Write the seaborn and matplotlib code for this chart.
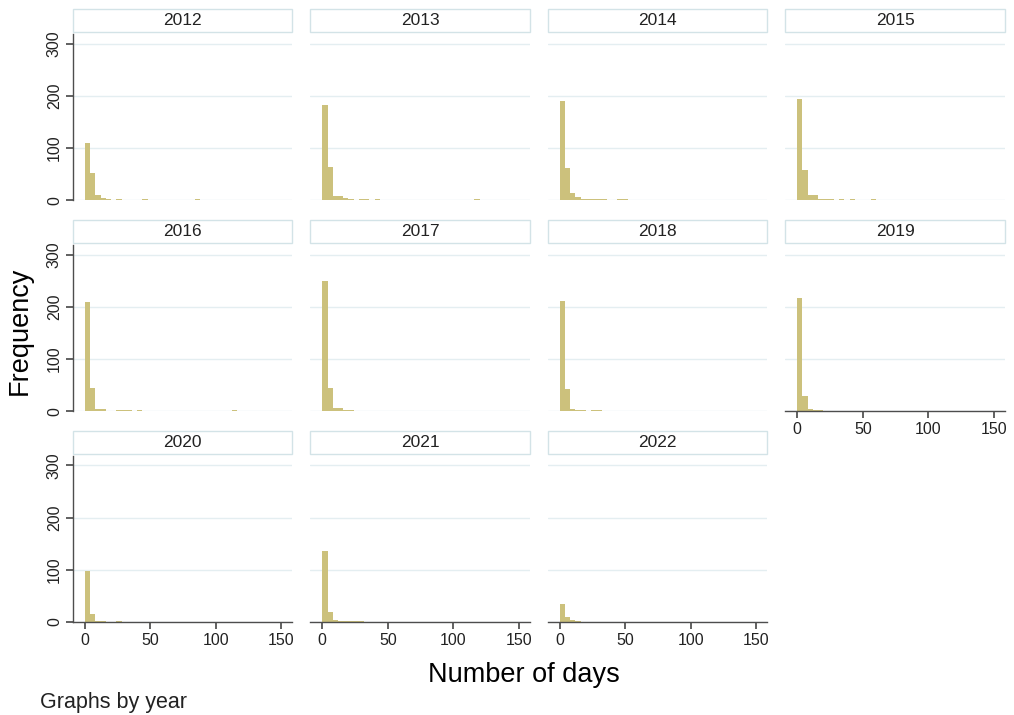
import numpy as np
import pandas as pd
import matplotlib
matplotlib.use("Agg")
import matplotlib.pyplot as plt
from matplotlib.patches import Rectangle
import seaborn as sns

# Histogram counts per year: bin midpoints (days, bin width 4) and frequencies
years = [2012, 2013, 2014, 2015, 2016, 2017, 2018, 2019, 2020, 2021, 2022]

days_2012 = [2, 6, 10, 14, 18, 26, 46, 86]
freq_2012 = [110, 52, 10, 5, 3, 2, 2, 2]

days_2013 = [2, 6, 10, 14, 18, 22, 30, 34, 42, 118]
freq_2013 = [183, 63, 9, 8, 4, 2, 2, 2, 2, 3]

days_2014 = [2, 6, 10, 14, 18, 22, 26, 30, 34, 46, 50]
freq_2014 = [190, 62, 15, 6, 3, 2, 2, 2, 2, 3, 3]

days_2015 = [2, 6, 10, 14, 18, 22, 26, 34, 42, 58]
freq_2015 = [194, 58, 11, 11, 3, 3, 3, 2, 2, 2]

days_2016 = [2, 6, 10, 14, 26, 30, 34, 42, 114]
freq_2016 = [209, 45, 5, 5, 2, 2, 2, 2, 2]

days_2017 = [2, 6, 10, 14, 18, 22]
freq_2017 = [249, 45, 6, 6, 2, 2]

days_2018 = [2, 6, 10, 14, 18, 26, 30]
freq_2018 = [211, 42, 5, 2, 2, 2, 2]

days_2019 = [2, 6, 10, 14, 18, 26, 30, 34, 38, 42, 46, 66, 94]
freq_2019 = [216, 30, 5, 3, 2, 1, 1, 1, 1, 1, 1, 1, 1]

days_2020 = [2, 6, 10, 14, 22, 26]
freq_2020 = [98, 15, 2, 2, 1, 2]

days_2021 = [2, 6, 10, 14, 18, 22, 26, 30]
freq_2021 = [137, 19, 4, 2, 2, 2, 2, 2]

days_2022 = [2, 6, 10, 14]
freq_2022 = [35, 9, 3, 2]

days_by_year = [days_2012, days_2013, days_2014, days_2015, days_2016, days_2017,
                days_2018, days_2019, days_2020, days_2021, days_2022]
freq_by_year = [freq_2012, freq_2013, freq_2014, freq_2015, freq_2016, freq_2017,
                freq_2018, freq_2019, freq_2020, freq_2021, freq_2022]

x_ticks = [0, 50, 100, 150]
y_ticks = [0, 100, 200, 300]

BAR = "#ccc17c"
GRID = "#e4eef1"
STRIP_EDGE = "#d3e3e7"
AXIS = "#4d4d4d"
TEXT = "#222222"

rows = []
for yr, ds, fs in zip(years, days_by_year, freq_by_year):
    for d, f in zip(ds, fs):
        rows.append({"year": yr, "days": d, "freq": f})
df = pd.DataFrame(rows)

sns.set_theme(style="white")
plt.rcParams["font.family"] = ["Liberation Sans", "DejaVu Sans"]

g = sns.FacetGrid(df, col="year", col_wrap=4, sharex=True, sharey=True,
                  height=2, aspect=1.3, despine=False)
g.map_dataframe(sns.histplot, x="days", weights="freq", binwidth=4,
                binrange=(0, 156), color=BAR, alpha=1, linewidth=0)

fig = g.figure
fig.set_size_inches(10.14, 7.15)
fig.subplots_adjust(left=0.072, right=0.991, top=0.952, bottom=0.130,
                    wspace=0.082, hspace=0.27)

n = len(years)
for i, (yr, ax) in enumerate(zip(years, g.axes.flat)):
    col = i % 4
    is_bottom = i + 4 >= n
    ax.set_xlim(-9, 158.4)
    ax.set_ylim(0, 318)
    ax.set_xticks(x_ticks)
    ax.set_yticks(y_ticks)
    ax.set_xlabel("")
    ax.set_ylabel("")
    ax.set_title("")
    ax.set_facecolor("white")
    ax.yaxis.grid(True, color=GRID, lw=1)
    ax.xaxis.grid(False)
    ax.set_axisbelow(True)
    for s in ["top", "right"]:
        ax.spines[s].set_visible(False)
    ax.spines["left"].set_visible(col == 0)
    ax.spines["bottom"].set_visible(is_bottom)
    for s in ["left", "bottom"]:
        ax.spines[s].set_color(AXIS)
        ax.spines[s].set_linewidth(1)
    ax.tick_params(axis="y", left=(col == 0), labelleft=(col == 0),
                   length=5, color=AXIS, labelsize=11.5, labelcolor=TEXT,
                   labelrotation=90, pad=3)
    ax.tick_params(axis="x", bottom=is_bottom, labelbottom=is_bottom,
                   length=5, color=AXIS, labelsize=11.5, labelcolor=TEXT, pad=3)
    for t in ax.get_yticklabels():
        t.set_va("center")
    ax.add_patch(Rectangle((0, 1.013), 1, 0.139, transform=ax.transAxes,
                           facecolor="white", edgecolor=STRIP_EDGE, lw=1,
                           clip_on=False))
    ax.text(0.5, 1.082, str(yr), transform=ax.transAxes, ha="center",
            va="center", fontsize=12.5, color=TEXT)

fig.text(0.0197, 0.538, "Frequency", rotation=90, ha="center", va="center",
         fontsize=19.5, color="black")
fig.text(0.517, 0.056, "Number of days", ha="center", va="center",
         fontsize=19.5, color="black")
fig.text(0.039, 0.017, "Graphs by year", ha="left", va="center",
         fontsize=15.5, color=TEXT)

fig.savefig("out.png", dpi=100, facecolor="white")
